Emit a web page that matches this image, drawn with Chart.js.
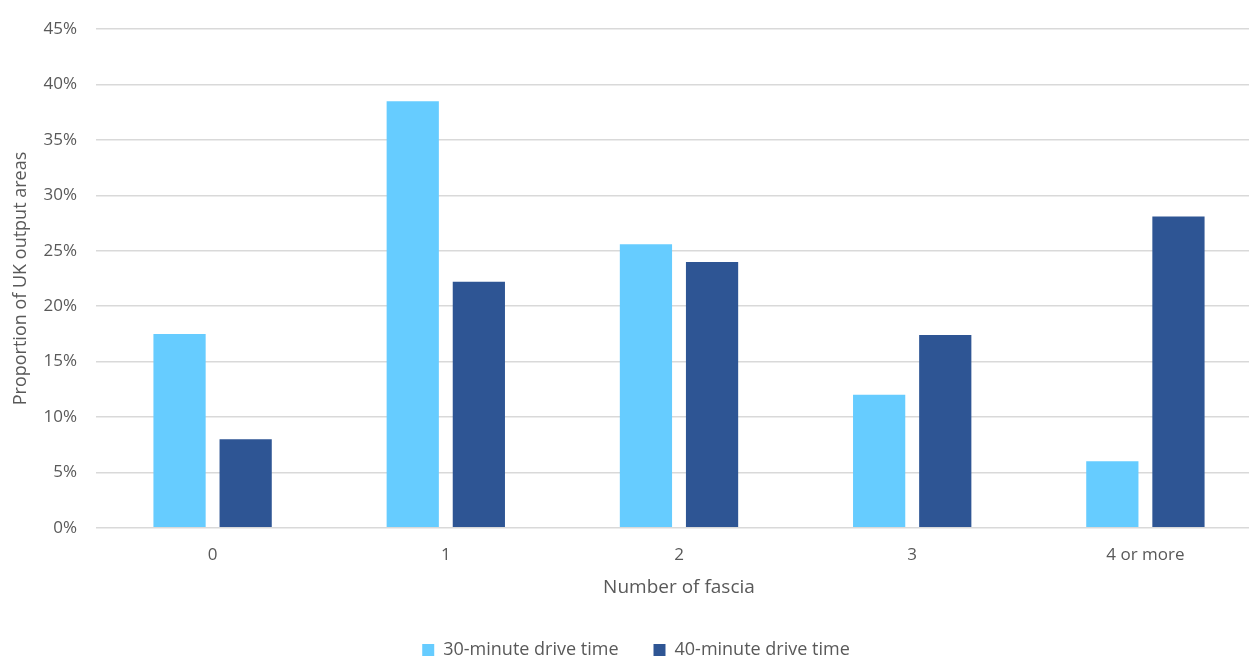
<!DOCTYPE html>
<html>
<head>
<meta charset="utf-8">
<script src="https://cdn.jsdelivr.net/npm/chart.js@4/dist/chart.umd.min.js"></script>
<style>
  html, body { margin: 0; padding: 0; background: #fff; overflow: hidden; }
  #frame { width: 1249px; height: 658px; overflow: hidden; }
  /* plot runs past the right edge in the original, so the canvas is a bit bigger than the frame */
  #wrap { width: 1272px; height: 669px; }
</style>
</head>
<body>
<div id="frame"><div id="wrap"><canvas id="chart"></canvas></div></div>
<script>
// Data
const categories = ['0', '1', '2', '3', '4 or more'];
const drive30 = [17.5, 38.5, 25.6, 12.0, 6.0];
const drive40 = [8.0, 22.2, 24.0, 17.4, 28.1];
const seriesNames = ['30-minute drive time', '40-minute drive time'];
const yTicks = [0, 5, 10, 15, 20, 25, 30, 35, 40, 45];

const textColor = '#595959';
const fontFamily = "'Open Sans', 'Liberation Sans', sans-serif";

new Chart(document.getElementById('chart'), {
    type: 'bar',
    data: {
        labels: categories,
        datasets: [
            {
                label: seriesNames[0],
                data: drive30,
                backgroundColor: '#66CCFF',
                categoryPercentage: 0.567,
                barPercentage: 0.79
            },
            {
                label: seriesNames[1],
                data: drive40,
                backgroundColor: '#2E5594',
                categoryPercentage: 0.567,
                barPercentage: 0.79
            }
        ]
    },
    options: {
        responsive: true,
        maintainAspectRatio: false,
        animation: false,
        layout: { padding: { top: 16, right: 10, left: 10, bottom: 0 } },
        scales: {
            x: {
                grid: { display: false },
                border: { color: '#d9d9d9', width: 1 },
                ticks: { color: textColor, font: { family: fontFamily, size: 17 }, padding: 9 },
                title: {
                    display: true,
                    text: 'Number of fascia',
                    color: textColor,
                    font: { family: fontFamily, size: 19 },
                    padding: { top: 2, bottom: 7 }
                }
            },
            y: {
                min: yTicks[0],
                max: yTicks[yTicks.length - 1],
                afterFit: scale => { scale.width = 96 - 10; },
                afterBuildTicks: scale => { scale.ticks = yTicks.map(v => ({ value: v })); },
                ticks: {
                    color: textColor,
                    font: { family: fontFamily, size: 17 },
                    padding: 19,
                    callback: v => v + '%'
                },
                grid: { color: '#d9d9d9', lineWidth: 1.5, drawTicks: false },
                border: { display: false },
                title: {
                    display: true,
                    text: 'Proportion of UK output areas',
                    color: textColor,
                    font: { family: fontFamily, size: 18 },
                    padding: { top: 0, bottom: 0 }
                }
            }
        },
        plugins: {
            legend: {
                position: 'bottom',
                labels: {
                    color: textColor,
                    font: { family: fontFamily, size: 18 },
                    boxWidth: 12,
                    boxHeight: 12,
                    padding: 35
                }
            },
            tooltip: { enabled: false }
        }
    }
});
</script>
</body>
</html>
